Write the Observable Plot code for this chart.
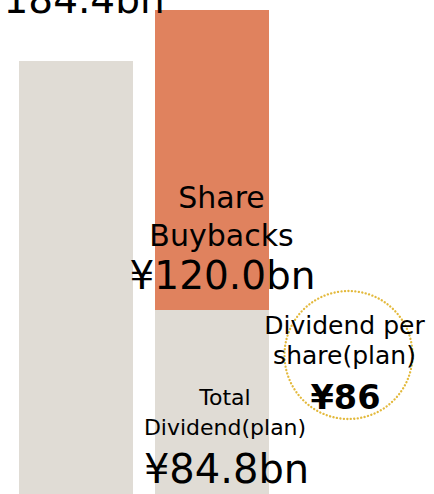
<!DOCTYPE html>
<html>
<head>
<meta charset="utf-8">
<script src="https://cdn.jsdelivr.net/npm/d3@7"></script>
<script src="https://cdn.jsdelivr.net/npm/@observablehq/plot@0.6"></script>
<style>
  html, body { margin: 0; padding: 0; background: #fff; overflow: hidden; }
  #chart svg { display: block; }
</style>
</head>
<body>
<div id="chart"></div>
<script>
// ---- data ----
const categories = ["Previous", "Plan", "DPS"];
const segments = ["Total", "Total Dividend", "Share Buybacks"];
const segmentCategory = ["Previous", "Plan", "Plan"];
const segmentValues = [184.4, 84.8, 120.0];
const segmentColors = ["#e0dcd5", "#e0dcd5", "#e0825e"];
const dividendPerShare = 86;

const rows = segments.map((s, i) => ({
  cat: segmentCategory[i], seg: s, v: segmentValues[i], color: segmentColors[i]
}));
const planTotal = segmentValues[1] + segmentValues[2];
const fmt = v => "¥" + v.toFixed(1) + "bn";

const font = "DejaVu Sans, Verdana, sans-serif";

const chart = Plot.plot({
  width: 434,
  height: 494,
  margin: 0,
  style: { fontFamily: font, background: "#fff", overflow: "visible" },
  x: { type: "band", domain: categories, range: [17.5, 405.8], paddingInner: 0.161, paddingOuter: 0, axis: null },
  y: { domain: [0, planTotal], range: [522, 10], axis: null },
  marks: [
    Plot.barY(rows, { x: "cat", y: "v", fill: "color", order: null }),
    // previous total label
    Plot.text([rows[0]], {
      x: "cat", y: "v", text: d => d.v.toFixed(1) + "bn",
      fontSize: 39, fill: "#000", lineAnchor: "bottom", dx: 7.6, dy: -49
    }),
    // share buybacks label
    Plot.text([rows[2]], {
      x: "cat", y: () => segmentValues[1], text: d => "Share\nBuybacks",
      fontSize: 30, lineHeight: 1.267, fill: "#000", lineAnchor: "bottom", dx: 9, dy: -65
    }),
    Plot.text([rows[2]], {
      x: "cat", y: () => segmentValues[1], text: d => fmt(d.v),
      fontSize: 39, fill: "#000", lineAnchor: "bottom", dx: 10, dy: -22
    }),
    // total dividend label
    Plot.text([rows[1]], {
      x: "cat", y: () => 0, text: d => "Total\nDividend(plan)",
      fontSize: 22, lineHeight: 1.364, fill: "#000", lineAnchor: "bottom", dx: 12.5, dy: -88
    }),
    Plot.text([rows[1]], {
      x: "cat", y: () => 0, text: d => fmt(d.v),
      fontSize: 40, fill: "#000", lineAnchor: "bottom", dx: 14, dy: -40
    }),
    // dividend per share circle + label
    Plot.dot([dividendPerShare], {
      x: () => "DPS", frameAnchor: "bottom", dy: -139.5, r: 64,
      fill: "none", stroke: "#e3b93c", strokeWidth: 2.3,
      strokeDasharray: "0.1 3.4", strokeLinecap: "round"
    }),
    Plot.text([dividendPerShare], {
      x: () => "DPS", frameAnchor: "bottom", text: () => "Dividend per\nshare(plan)",
      fontSize: 25, lineHeight: 1.2, fill: "#000", lineAnchor: "bottom", dx: -4, dy: -131
    }),
    Plot.text([dividendPerShare], {
      x: () => "DPS", frameAnchor: "bottom", text: d => "¥" + d,
      fontSize: 33.5, fontWeight: "bold", fill: "#000", lineAnchor: "bottom", dx: -3, dy: -86
    })
  ]
});
document.getElementById("chart").appendChild(chart);
</script>
</body>
</html>
